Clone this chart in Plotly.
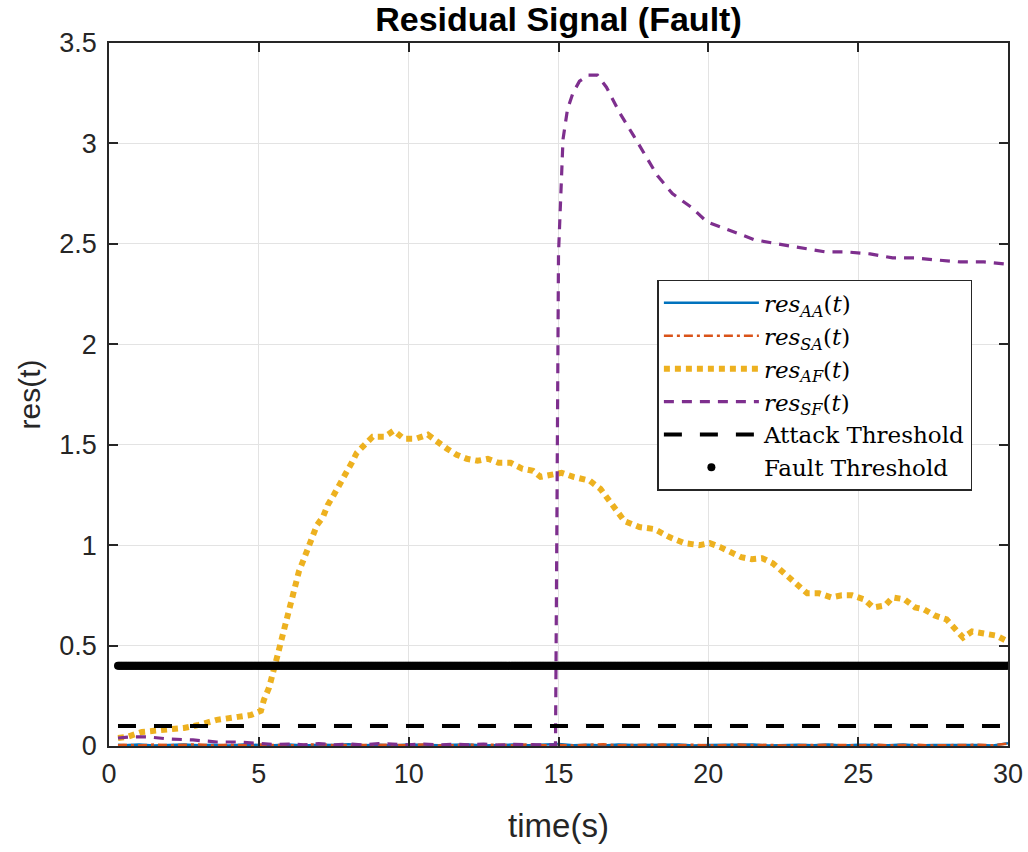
import numpy as np
import plotly.graph_objects as go

# ---------------- data ----------------
# sampling times for the near-zero residuals (0.3 s, then every 0.5 s)
t_low = [0.3] + [0.5 * k for k in range(1, 61)]

res_AA = [0.006, 0.004, 0.007, 0.003, 0.005, 0.008, 0.004, 0.006, 0.003, 0.007,
          0.005, 0.004, 0.008, 0.003, 0.006, 0.005, 0.009, 0.004, 0.006, 0.003,
          0.007, 0.005, 0.004, 0.006, 0.008, 0.003, 0.005, 0.007, 0.004, 0.006,
          0.010, 0.004, 0.006, 0.003, 0.007, 0.005, 0.004, 0.006, 0.008, 0.003,
          0.005, 0.006, 0.004, 0.007, 0.003, 0.005, 0.006, 0.004, 0.008, 0.003,
          0.006, 0.005, 0.004, 0.007, 0.003, 0.005, 0.006, 0.004, 0.005, 0.003,
          0.014]

res_SA = [0.004, 0.006, 0.003, 0.007, 0.004, 0.005, 0.008, 0.003, 0.006, 0.004,
          0.007, 0.005, 0.003, 0.006, 0.009, 0.004, 0.005, 0.003, 0.007, 0.006,
          0.004, 0.008, 0.003, 0.005, 0.004, 0.007, 0.006, 0.003, 0.008, 0.004,
          0.005, 0.003, 0.006, 0.009, 0.004, 0.005, 0.003, 0.007, 0.004, 0.006,
          0.003, 0.005, 0.007, 0.004, 0.006, 0.003, 0.005, 0.004, 0.006, 0.005,
          0.003, 0.007, 0.004, 0.005, 0.006, 0.003, 0.005, 0.004, 0.006, 0.004,
          0.012]

t_af = [0.3, 0.6, 1.1, 1.8, 2.5, 3.0, 3.6, 4.3, 4.75, 5.07, 5.17, 5.34, 5.44, 5.54,
        5.64, 5.74, 5.84, 5.94, 6.04, 6.14, 6.24, 6.34, 6.5, 6.64, 6.8, 6.94, 7.14,
        7.3, 7.5, 7.7, 7.94, 8.1, 8.27, 8.57, 8.8, 9.2, 9.5, 9.84, 10.24, 10.64,
        10.98, 11.28, 11.6, 11.94, 12.3, 12.64, 13.0, 13.4, 13.8, 14.15, 14.4, 14.8,
        15.1, 15.5, 16.05, 16.4, 16.8, 17.2, 17.7, 18.2, 18.7, 19.2, 19.7, 20.05,
        20.4, 20.7, 21.1, 21.45, 21.8, 22.15, 22.45, 22.7, 23.0, 23.3, 23.7, 24.1,
        24.45, 24.8, 25.2, 25.5, 25.9, 26.15, 26.55, 26.9, 27.2, 27.55, 27.95, 28.2,
        28.5, 28.8, 29.2, 29.6, 30.0]
res_AF = [0.04, 0.045, 0.07, 0.08, 0.09, 0.105, 0.13, 0.145, 0.155, 0.175, 0.23, 0.29,
          0.34, 0.41, 0.46, 0.52, 0.58, 0.64, 0.69, 0.75, 0.81, 0.87, 0.93, 0.98, 1.04,
          1.10, 1.14, 1.20, 1.25, 1.30, 1.36, 1.41, 1.46, 1.50, 1.54, 1.54, 1.57, 1.53,
          1.53, 1.55, 1.51, 1.48, 1.45, 1.43, 1.42, 1.43, 1.41, 1.41, 1.38, 1.37, 1.34,
          1.35, 1.36, 1.34, 1.32, 1.28, 1.20, 1.12, 1.09, 1.08, 1.04, 1.01, 1.00, 1.01,
          0.99, 0.965, 0.94, 0.93, 0.935, 0.91, 0.87, 0.83, 0.79, 0.76, 0.76, 0.74,
          0.75, 0.75, 0.73, 0.69, 0.70, 0.74, 0.73, 0.69, 0.68, 0.65, 0.63, 0.59,
          0.54, 0.57, 0.56, 0.55, 0.52]

t_sf = [0.3, 0.7, 1.3, 2.0, 2.8, 3.6, 4.3, 5.0, 5.5, 6.0, 6.5, 7.0, 7.5, 8.0, 8.5,
        9.0, 9.5, 10.0, 10.5, 11.0, 11.5, 12.0, 12.5, 13.0, 13.5, 14.0, 14.5, 14.9,
        14.95, 15.0, 15.15, 15.3, 15.48, 15.7, 16.0, 16.3, 16.6, 17.05, 17.5, 17.9,
        18.3, 18.8, 19.45, 19.95, 20.8, 21.55, 22.3, 23.1, 23.9, 24.6, 25.4, 26.15,
        26.9, 27.6, 28.4, 29.2, 29.9, 30.0]
res_SF = [0.04, 0.045, 0.045, 0.035, 0.03, 0.02, 0.02, 0.012, 0.008, 0.01, 0.006,
          0.012, 0.006, 0.01, 0.005, 0.012, 0.008, 0.006, 0.01, 0.005, 0.009, 0.006,
          0.01, 0.005, 0.008, 0.006, 0.007, 0.005, 1.2, 2.45, 3.02, 3.17, 3.25, 3.31,
          3.34, 3.34, 3.28, 3.15, 3.04, 2.94, 2.84, 2.75, 2.68, 2.61, 2.56, 2.52,
          2.50, 2.48, 2.46, 2.46, 2.45, 2.43, 2.43, 2.42, 2.41, 2.41, 2.40, 2.41]

ATTACK_THRESHOLD = 0.1
FAULT_THRESHOLD = 0.4
t_thr = np.linspace(0.3, 30.0, 700)

x_ticks = [0, 5, 10, 15, 20, 25, 30]
y_ticks = [0, 0.5, 1, 1.5, 2, 2.5, 3, 3.5]

# ---------------- figure ----------------
AX = '#262626'
SANS = 'Liberation Sans, Arial, sans-serif'
fig = go.Figure()
fig.add_trace(go.Scatter(x=t_low, y=res_AA, mode='lines',
                         name='<i>res</i><sub><i>AA</i></sub>(<i>t</i>)',
                         line=dict(color='#0072BD', width=2.5)))
fig.add_trace(go.Scatter(x=t_low, y=res_SA, mode='lines',
                         name='<i>res</i><sub><i>SA</i></sub>(<i>t</i>)',
                         line=dict(color='#D95319', width=2.5, dash='9px,4px,3px,4px')))
fig.add_trace(go.Scatter(x=t_af, y=res_AF, mode='lines',
                         name='<i>res</i><sub><i>AF</i></sub>(<i>t</i>)',
                         line=dict(color='#EDB120', width=6, dash='6px,5px')))
fig.add_trace(go.Scatter(x=t_sf, y=res_SF, mode='lines',
                         name='<i>res</i><sub><i>SF</i></sub>(<i>t</i>)',
                         line=dict(color='#7E2F8E', width=3.2, dash='10px,8px')))
fig.add_trace(go.Scatter(x=[t_thr[0], t_thr[-1]], y=[ATTACK_THRESHOLD, ATTACK_THRESHOLD],
                         mode='lines', name='Attack Threshold',
                         line=dict(color='black', width=4, dash='18px,18px')))
fig.add_trace(go.Scatter(x=t_thr, y=[FAULT_THRESHOLD] * len(t_thr), mode='markers',
                         name='Fault Threshold',
                         marker=dict(color='black', size=8, line=dict(width=0))))

axis_common = dict(
    showline=True, linecolor=AX, linewidth=1.5, mirror='allticks',
    ticks='inside', ticklen=9, tickwidth=1.5, tickcolor=AX,
    showgrid=True, gridcolor='#e3e3e3', gridwidth=1, zeroline=False,
    tickfont=dict(family=SANS, size=27, color=AX), automargin=False,
)

fig.update_layout(
    width=1028, height=852,
    paper_bgcolor='white', plot_bgcolor='white',
    margin=dict(l=109, r=20, t=43, b=106),
    title=dict(text='<b>Residual Signal (Fault)</b>', x=0.5, xanchor='center', xref='paper',
               y=0.977, yanchor='middle', yref='container',
               font=dict(family=SANS, size=34, color='black')),
    xaxis=dict(range=[0, 30], tickvals=x_ticks, ticklabelstandoff=3, **axis_common,
               title=dict(text='time(s)', standoff=26,
                          font=dict(family=SANS, size=33, color=AX))),
    yaxis=dict(range=[0, 3.5], tickvals=y_ticks, ticklabelstandoff=5, **axis_common,
               title=dict(text='res(t)', standoff=10,
                          font=dict(family=SANS, size=30, color=AX))),
    legend=dict(x=0.61, y=0.663, xanchor='left', yanchor='top',
                bgcolor='white', bordercolor=AX, borderwidth=1.5,
                font=dict(family='DejaVu Serif, serif', size=23, color='black'),
                itemwidth=95, tracegroupgap=0, itemsizing='trace'),
    showlegend=True,
)

fig.write_html('out.html', config={'displayModeBar': False},
               post_script="document.body.style.margin='0';")
